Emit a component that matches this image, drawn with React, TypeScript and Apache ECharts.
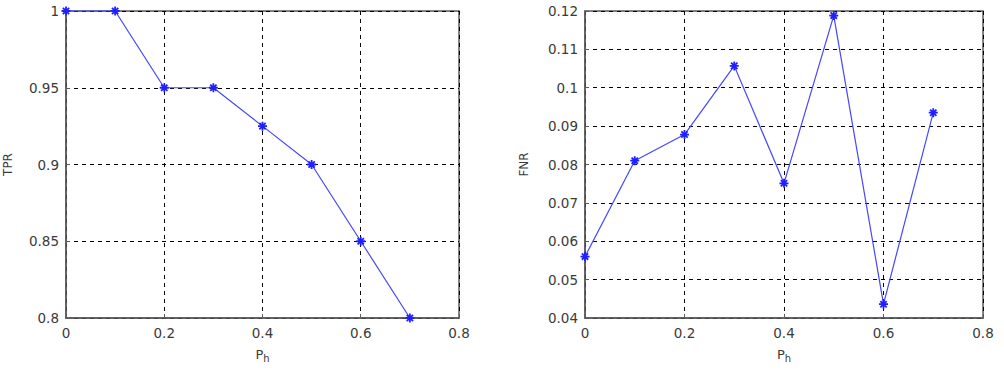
import React, { useEffect, useRef } from "react";
import * as echarts from "echarts";

const ph = [0, 0.1, 0.2, 0.3, 0.4, 0.5, 0.6, 0.7];
const tpr = [1, 1, 0.95, 0.95, 0.925, 0.9, 0.85, 0.8];
const fnr = [0.056, 0.081, 0.0878, 0.1057, 0.0751, 0.1188, 0.0436, 0.0935];

const ASTER =
  "path://M5,0 L5,10 M0,5 L10,5 M1.5,1.5 L8.5,8.5 M1.5,8.5 L8.5,1.5";

const FONT = "'DejaVu Sans', Verdana, sans-serif";
const LABEL_COLOR = "#3a3a3a";
const AXIS_COLOR = "#5a5a5a";

function xAxis(gridIndex: number) {
  return {
    type: "value",
    gridIndex,
    min: 0,
    max: 0.8,
    interval: 0.2,
    name: "{p|P}{s|h}",
    nameLocation: "middle",
    nameGap: 27,
    nameTextStyle: {
      rich: {
        p: { fontFamily: FONT, fontSize: 13, color: LABEL_COLOR },
        s: { fontFamily: FONT, fontSize: 10, color: LABEL_COLOR, verticalAlign: "bottom", padding: [8, 0, 0, 0] },
      },
    },
    axisLine: { show: true, onZero: false, lineStyle: { color: AXIS_COLOR, width: 1.5 } },
    axisTick: { show: true, inside: true, length: 4, lineStyle: { color: AXIS_COLOR } },
    axisLabel: {
      color: LABEL_COLOR,
      fontFamily: FONT,
      fontSize: 13.5,
      margin: 8,
      formatter: (v: number) => String(Number(v.toFixed(2))),
    },
    splitLine: { show: true, lineStyle: { color: "#000", type: [4, 4], width: 1 } },
  };
}

function yAxis(gridIndex: number, min: number, max: number, interval: number, name: string, gap: number) {
  return {
    type: "value",
    gridIndex,
    min,
    max,
    interval,
    name,
    nameLocation: "middle",
    nameGap: gap,
    nameTextStyle: { fontFamily: FONT, fontSize: 12, color: LABEL_COLOR },
    axisLine: { show: true, onZero: false, lineStyle: { color: AXIS_COLOR, width: 1.5 } },
    axisTick: { show: true, inside: true, length: 4, lineStyle: { color: AXIS_COLOR } },
    axisLabel: {
      color: LABEL_COLOR,
      fontFamily: FONT,
      fontSize: 13.5,
      margin: 7,
      formatter: (v: number) => String(Number(v.toFixed(3))),
    },
    splitLine: { show: true, lineStyle: { color: "#000", type: [4, 4], width: 1 } },
  };
}

function series(idx: number, data: number[]) {
  return {
    type: "line",
    xAxisIndex: idx,
    yAxisIndex: idx,
    data: ph.map((x, i) => [x, data[i]]),
    symbol: ASTER,
    symbolSize: 9,
    showAllSymbol: true,
    lineStyle: { color: "#4646ff", width: 1.2 },
    itemStyle: { color: "transparent", borderColor: "#2020ff", borderWidth: 1.8 },
    clip: false,
  };
}

export default function App() {
  const ref = useRef<HTMLDivElement>(null);
  useEffect(() => {
    if (!ref.current) return;
    const chart = echarts.init(ref.current, undefined, { renderer: "svg" });
    chart.setOption({
      animation: false,
      backgroundColor: "#fff",
      grid: [
        { left: 66, top: 11, width: 393, height: 307, show: true, borderColor: AXIS_COLOR, borderWidth: 1.5, backgroundColor: "transparent", containLabel: false, outerBoundsMode: "none" },
        { left: 585, top: 11, width: 398, height: 307, show: true, borderColor: AXIS_COLOR, borderWidth: 1.5, backgroundColor: "transparent", containLabel: false, outerBoundsMode: "none" },
      ],
      xAxis: [xAxis(0), xAxis(1)],
      yAxis: [yAxis(0, 0.8, 1, 0.05, "TPR", 52), yAxis(1, 0.04, 0.12, 0.01, "FNR", 55)],
      series: [series(0, tpr), series(1, fnr)],
    });
    return () => chart.dispose();
  }, []);
  return (
    <div
      ref={ref}
      style={{ position: "absolute", left: 0, top: 0, width: 1004, height: 375 }}
    />
  );
}
